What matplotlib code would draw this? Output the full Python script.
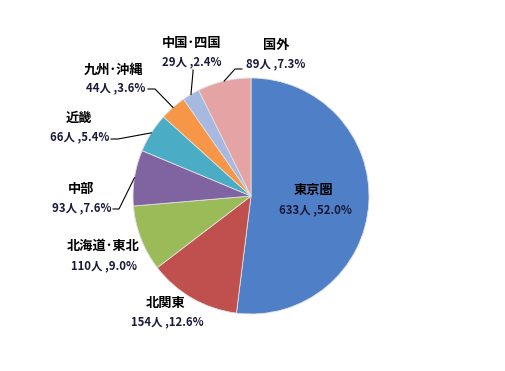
import numpy as np
import matplotlib.pyplot as plt

plt.rcParams['font.family'] = ['Noto Sans CJK JP', 'DejaVu Sans']

regions = ["東京圏", "北関東", "北海道･東北", "中部", "近畿", "九州･沖縄", "中国･四国", "国外"]
counts = [633, 154, 110, 93, 66, 44, 29, 89]
colors = ["#4F7FC6", "#C0504D", "#9BBB59", "#8064A2", "#4BACC6", "#F79646", "#A7B9E0", "#E6A3A3"]

# label positions in pixels (name centre, number centre)
name_pos = [(313, 190), (166, 303), (103, 246), (81, 189), (79, 118), (113, 70), (192, 43), (276, 45)]
num_pos = [(315, 210), (167, 322), (104, 266), (82, 208), (80, 137), (116, 88), (192, 62), (276, 64)]
# leader lines: start and elbow in pixels (None = no line)
leaders = [None, None, None,
           ((113, 209), (119, 209)),
           ((111, 139), (118, 139)),
           ((148, 89), (155, 89)),
           ((193, 70), (193, 72)),
           ((242, 69), (235, 69))]

W, H = 505, 371
cx, cy, r = 251, 196, 118

fig = plt.figure(figsize=(W / 100, H / 100), dpi=100)
ax = fig.add_axes([0, 0, 1, 1])

wedges, _ = ax.pie(counts, colors=colors, startangle=90, counterclock=False,
                   radius=r, center=(cx, H - cy), frame=True,
                   wedgeprops=dict(edgecolor='#e0e0e0', linewidth=0.6))
ax.set_xlim(0, W)
ax.set_ylim(0, H)
ax.set_aspect('equal')
ax.axis('off')

total = sum(counts)
for i, (name, n) in enumerate(zip(regions, counts)):
    pct = n / total * 100
    ax.text(name_pos[i][0], H - name_pos[i][1], name, ha='center', va='center',
            fontsize=9.5, fontweight='bold', color='black')
    ax.text(num_pos[i][0], H - num_pos[i][1], f"{n}人 ,{pct:.1f}%", ha='center', va='center',
            fontsize=8.2, fontweight='bold', color='#1a1a3a')
    if leaders[i] is not None:
        w = wedges[i]
        mid = np.deg2rad((w.theta1 + w.theta2) / 2)
        ex = cx + r * np.cos(mid)
        ey = H - cy + r * np.sin(mid)
        (sx, sy), (bx, by) = leaders[i]
        ax.plot([sx, bx, ex], [H - sy, H - by, ey], color='black', lw=0.8)

fig.savefig("out.png", dpi=100)
